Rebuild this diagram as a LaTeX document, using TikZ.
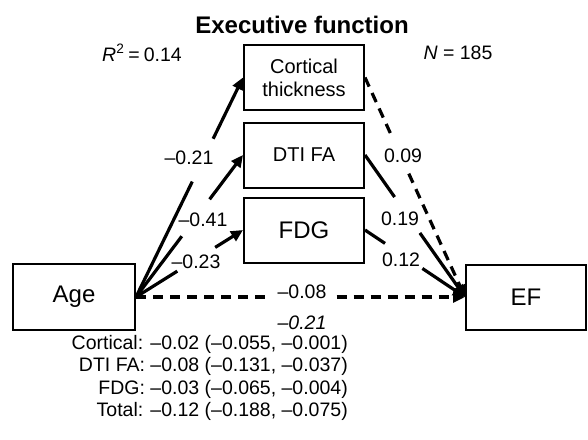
\documentclass[tikz,border=0pt]{standalone}
\usepackage{fontspec}
\setmainfont{Liberation Sans}
\usetikzlibrary{arrows.meta,calc}
\begin{document}
\begin{tikzpicture}[x=1pt,y=-1pt,
  box/.style={draw, line width=2pt, minimum width=120pt, minimum height=65pt, inner sep=0pt, align=center},
  big/.style={font=\fontsize{24}{28}\selectfont},
  mid/.style={font=\fontsize{20}{23}\selectfont},
  num/.style={font=\fontsize{19.5}{22.3}\selectfont, inner sep=0pt},
  conn/.style={line width=3.2pt},
  arr/.style={-{Triangle[length=12pt,width=11pt]}},
  dsh/.style={dash pattern=on 10pt off 7pt}
]
\useasboundingbox (0,0) rectangle (588,439);

% boxes
\node[box, mid] (cort) at (304,77.5) {Cortical\\thickness};
\node[box, mid] (dti) at (304,155) {DTI FA};
\node[box, big] (fdg) at (304,230) {FDG};
\node[box, big, minimum width=122pt, minimum height=66pt] (age) at (74,297) {Age};
\node[box, big] (ef) at (526,297) {EF};

% headers
\node[font=\bfseries\fontsize{24}{28}\selectfont] (title) at (302,25) {Executive function};
\node[num] (r2) at (142,53) {\textit{R}\textsuperscript{2}\hspace{4pt}=\hspace{4pt}0.14};
\node[num] (n) at (458,53) {\textit{N} = 185};

% Age -> mediators
\draw[conn] (age.east) -- ($(age.east)!0.526!(cort.west)$);
\draw[conn, arr] ($(age.east)!0.721!(cort.west)$) -- (cort.west);
\draw[conn] (age.east) -- ($(age.east)!0.428!(dti.west)$);
\draw[conn, arr] ($(age.east)!0.688!(dti.west)$) -- (dti.west);
\draw[conn] (age.east) -- ($(age.east)!0.386!(fdg.west)$);
\draw[conn, arr] ($(age.east)!0.74!(fdg.west)$) -- (fdg.west);

% mediators -> EF
\draw[conn, dsh] (cort.east) -- ($(cort.east)!0.263!(ef.west)$);
\draw[conn, dsh, arr] ($(cort.east)!0.438!(ef.west)$) -- (ef.west);
\draw[conn] (dti.east) -- ($(dti.east)!0.296!(ef.west)$);
\draw[conn, arr] ($(dti.east)!0.549!(ef.west)$) -- (ef.west);
\draw[conn] (fdg.east) -- ($(fdg.east)!0.2!(ef.west)$);
\draw[conn, arr] ($(fdg.east)!0.574!(ef.west)$) -- (ef.west);

% direct path
\draw[conn, dsh] (age.east) -- ($(age.east)!0.41!(ef.west)$);
\draw[conn, dsh, arr] ($(age.east)!0.61!(ef.west)$) -- (ef.west);

% labels
\node[num] (l1) at (189,158) {–0.21};
\node[num] (l2) at (203,220) {–0.41};
\node[num] (l3) at (196,262) {–0.23};
\node[num] (r1) at (403,156) {0.09};
\node[num] (r2b) at (400,219) {0.19};
\node[num] (r3) at (401,260) {0.12};
\node[num] (d1) at (302,292) {–0.08};
\node[num] (d2) at (302,323) {\textit{–0.21}};

% indirect effects
\node[num, anchor=east] (ind) at (348,378.5) {%
\begin{tabular}{@{}r@{ }l@{}}
Cortical: & –0.02 (–0.055, –0.001)\\
DTI FA: & –0.08 (–0.131, –0.037)\\
FDG: & –0.03 (–0.065, –0.004)\\
Total: & –0.12 (–0.188, –0.075)
\end{tabular}};
\end{tikzpicture}
\end{document}
